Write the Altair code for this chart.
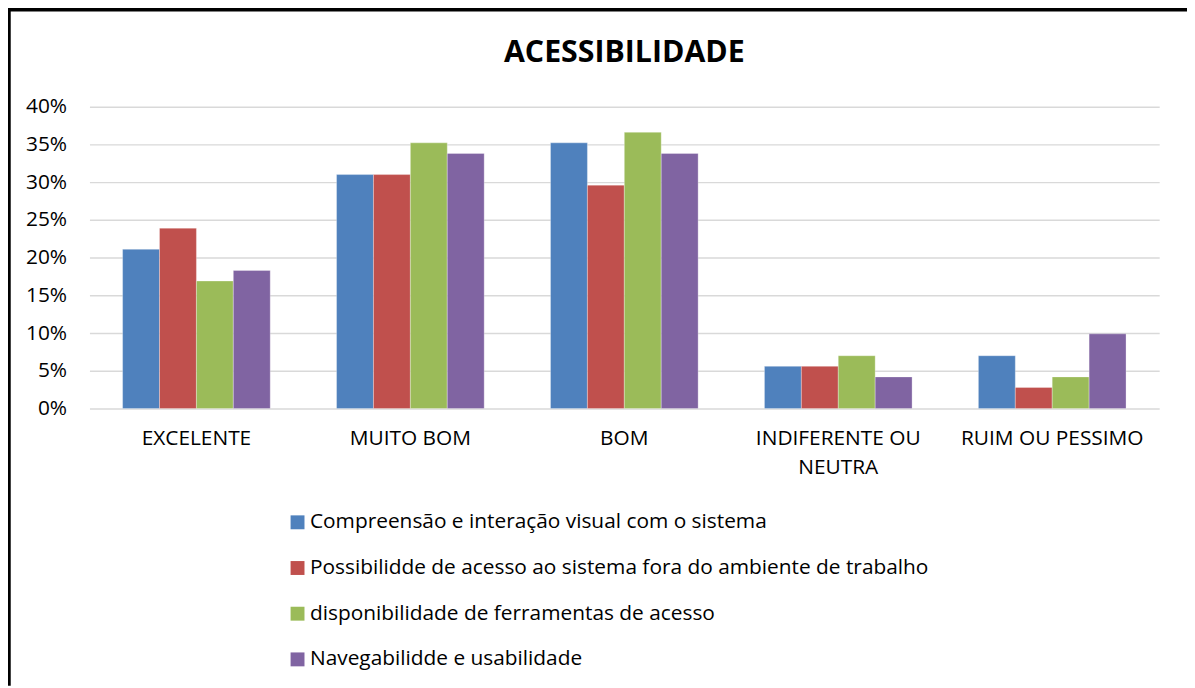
import altair as alt
import pandas as pd

categories = ["EXCELENTE", "MUITO BOM", "BOM", "INDIFERENTE OU NEUTRA", "RUIM OU PESSIMO"]
series = [
    "Compreensão e interação visual com o sistema",
    "Possibilidde de acesso ao sistema fora do ambiente de trabalho",
    "disponibilidade de ferramentas de acesso",
    "Navegabilidde e usabilidade",
]
compreensao = [21.1, 31.0, 35.2, 5.6, 7.0]
possibilidade = [23.9, 31.0, 29.6, 5.6, 2.8]
disponibilidade = [16.9, 35.2, 36.6, 7.0, 4.2]
navegabilidade = [18.3, 33.8, 33.8, 4.2, 9.9]
colors = ["#4F81BD", "#C0504D", "#9BBB59", "#8064A2"]
y_ticks = [0, 5, 10, 15, 20, 25, 30, 35, 40]

rows = []
for s, vals in zip(series, [compreensao, possibilidade, disponibilidade, navegabilidade]):
    for c, v in zip(categories, vals):
        rows.append({"categoria": c, "serie": s, "valor": v})
df = pd.DataFrame(rows)

FONT = "Open Sans"

bars = alt.Chart(df).mark_bar(stroke="white", strokeWidth=0.6, strokeOpacity=0.5).encode(
    x=alt.X("categoria:N", sort=categories, title=None,
            scale=alt.Scale(paddingInner=0.31, paddingOuter=0.155),
            axis=alt.Axis(labelAngle=0, ticks=False, domain=False, labelFontSize=21,
                          labelPadding=19, labelLineHeight=29, labelColor="#000000",
                          labelFont=FONT, labelBaseline="top", labelLimit=400,
                          labelOverlap=False,
                          labelExpr="datum.value == 'INDIFERENTE OU NEUTRA' ? ['INDIFERENTE OU', 'NEUTRA'] : datum.value")),
    xOffset=alt.XOffset("serie:N", sort=series),
    y=alt.Y("valor:Q", title=None,
            scale=alt.Scale(domain=[0, 40], nice=False),
            axis=alt.Axis(values=y_ticks, labelExpr="datum.value + '%'", ticks=False, domain=False,
                          grid=True, gridColor="#d9d9d9", gridWidth=1.5, labelFontSize=21,
                          labelPadding=23, labelColor="#000000", labelFont=FONT)),
    color=alt.Color("serie:N", sort=series,
                    scale=alt.Scale(domain=series, range=colors),
                    legend=alt.Legend(title=None, orient="none", legendX=199, legendY=408,
                                      direction="vertical", symbolType="square", symbolSize=196,
                                      symbolStrokeWidth=0, labelFontSize=21, labelFont=FONT,
                                      labelColor="#000000", rowPadding=24, labelOffset=2,
                                      labelLimit=900)),
)

frame = pd.DataFrame({"a": [0]})
top_border = alt.Chart(frame).mark_rule(color="#000000", strokeWidth=3.5).encode(
    x=alt.value(-82), x2=alt.value(1105), y=alt.value(-97.5))
left_border = alt.Chart(frame).mark_rule(color="#000000", strokeWidth=3.5).encode(
    x=alt.value(-81), y=alt.value(-97.5), y2=alt.value(583))

chart = alt.layer(bars, top_border, left_border).properties(
    width=1077, height=304,
    padding={"left": 82, "top": 97, "right": 28, "bottom": 279},
    autosize=alt.AutoSizeParams(type="none"),
    title=alt.Title("ACESSIBILIDADE", fontSize=30.5, font=FONT, fontWeight="bold",
                    color="#000000", anchor="middle", offset=0, dy=85,
                    baseline="alphabetic"),
).configure_view(stroke=None)

chart.save("out.html", embed_options={"renderer": "svg", "actions": False})
